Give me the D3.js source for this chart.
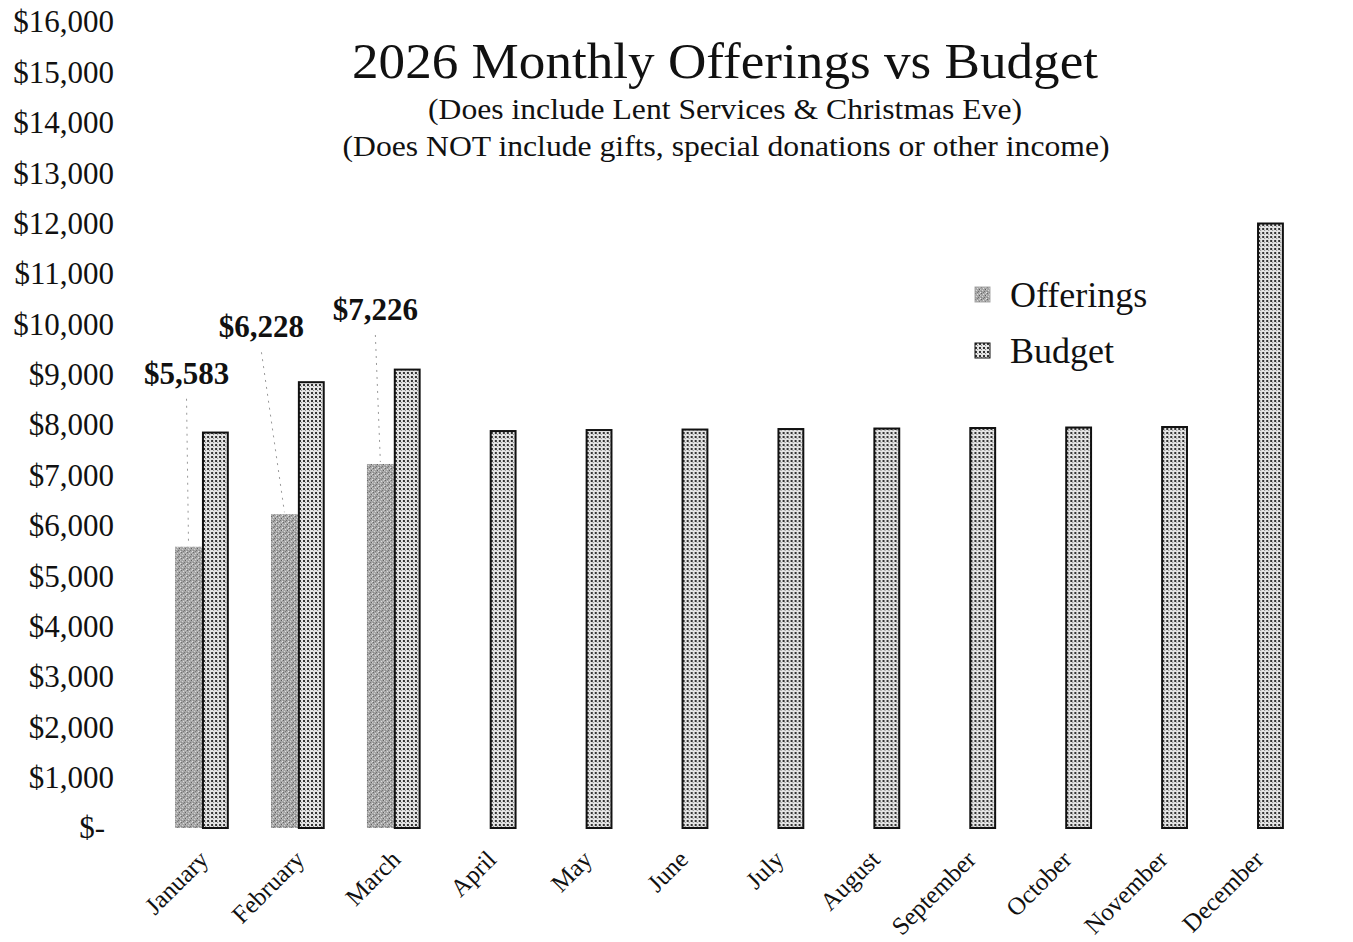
<!DOCTYPE html>
<html>
<head>
<meta charset="utf-8">
<script src="https://cdn.jsdelivr.net/npm/d3@7"></script>
<style>
	body { margin: 0; background: #fff; }
	text { font-family: "Liberation Serif", "Times New Roman", serif; fill: #111; }
</style>
</head>
<body>
<div id="visHolder"></div>
<script>
const months = ["January", "February", "March", "April", "May", "June", "July",
	"August", "September", "October", "November", "December"];
const offerings = [5583, 6228, 7226, null, null, null, null, null, null, null, null, null];
const budget = [7850, 8850, 9100, 7880, 7900, 7910, 7920, 7930, 7940, 7950, 7960, 12000];
const seriesNames = ["Offerings", "Budget"];
const yTicks = d3.range(0, 16001, 1000);

const width = 1353;
const height = 942;

//layout
const plot = { left: 154, right: 1305, top: 22, bottom: 828 };
// hand-placed data labels (offset of label centre from bar top)
const labelNudge = [[-2, -174], [-23, -188], [-5, -155]];

const svg = d3
	.select("#visHolder")
	.append("svg")
	.attr("width", width)
	.attr("height", height)
	.attr("viewBox", [0, 0, width, height]);

createPatterns();

const x = d3
	.scaleBand()
	.domain(months)
	.range([plot.left, plot.right])
	.paddingInner(0.44)
	.paddingOuter(0.22);

const xSeries = d3.scaleBand().domain(seriesNames).range([0, x.bandwidth()]);

const y = d3.scaleLinear().domain([0, 16000]).range([plot.bottom, plot.top]);

createYAxis();
createXAxis();
createBars();
createLabels();
createTitle();
createLegend();

function createPatterns() {
	const defs = svg.append("defs");
	const off = defs
		.append("pattern")
		.attr("id", "patOfferings")
		.attr("patternUnits", "userSpaceOnUse")
		.attr("width", 6)
		.attr("height", 6);
	off.append("rect").attr("width", 6).attr("height", 6).attr("fill", "#a6a6a6");
	[[0, 0, "#666"], [2, 1, "#e0e0e0"], [4, 2, "#5c5c5c"], [1, 3, "#d6d6d6"],
		[3, 4, "#707070"], [5, 5, "#e8e8e8"], [0, 4, "#888"], [4, 0, "#cacaca"],
		[2, 5, "#777"], [5, 2, "#ccc"]]
		.forEach(([px, py, c]) => {
			off.append("rect").attr("x", px).attr("y", py)
				.attr("width", 1).attr("height", 1).attr("fill", c);
		});

	const bud = defs
		.append("pattern")
		.attr("id", "patBudget")
		.attr("patternUnits", "userSpaceOnUse")
		.attr("width", 4)
		.attr("height", 4);
	bud.append("rect").attr("width", 4).attr("height", 4).attr("fill", "#e4e4e4");
	bud.append("rect").attr("x", 0).attr("y", 0).attr("width", 2).attr("height", 2).attr("fill", "#333");
	bud.append("rect").attr("x", 2).attr("y", 2).attr("width", 1).attr("height", 1).attr("fill", "#888");
}

function createYAxis() {
	const fmt = d3.format(",");
	const axis = d3
		.axisLeft(y)
		.tickValues(yTicks)
		.tickSize(0)
		.tickPadding(0)
		.tickFormat((d) => (d === 0 ? "$-" : "$" + fmt(d)));
	const g = svg
		.append("g")
		.attr("transform", `translate(114,0)`)
		.call(axis);
	g.select(".domain").remove();
	g.selectAll("text")
		.style("font-family", "'Liberation Serif', serif")
		.style("font-size", "31px")
		.attr("fill", "#111")
		.attr("dx", (d) => (d === 0 ? -9 : 0));
}

function createXAxis() {
	const g = svg.append("g");
	g.selectAll("text")
		.data(months)
		.join("text")
		.attr(
			"transform",
			(d) => `translate(${x(d) + x.bandwidth() / 2 + 8},${plot.bottom + 33}) rotate(-45)`
		)
		.attr("text-anchor", "end")
		.style("font-family", "'Liberation Serif', serif")
		.style("font-size", "25px")
		.text((d) => d);
}

function createBars() {
	const rows = months.map((m, i) => ({ month: m, Offerings: offerings[i], Budget: budget[i] }));
	const groups = svg
		.append("g")
		.selectAll("g")
		.data(rows)
		.join("g")
		.attr("transform", (d) => `translate(${x(d.month)},0)`);

	groups
		.filter((d) => d.Offerings != null)
		.append("rect")
		.attr("x", xSeries("Offerings"))
		.attr("width", xSeries.bandwidth())
		.attr("y", (d) => y(d.Offerings))
		.attr("height", (d) => y(0) - y(d.Offerings))
		.attr("fill", "url(#patOfferings)");

	groups
		.append("rect")
		.attr("x", xSeries("Budget") + 1)
		.attr("width", xSeries.bandwidth() - 2)
		.attr("y", (d) => y(d.Budget))
		.attr("height", (d) => y(0) - y(d.Budget))
		.attr("fill", "url(#patBudget)")
		.attr("stroke", "#111")
		.attr("stroke-width", 2);
}

function createLabels() {
	const fmt = d3.format(",");
	const data = offerings
		.map((v, i) => ({ month: months[i], value: v, nudge: labelNudge[i] }))
		.filter((d) => d.value != null);
	const g = svg.append("g");
	data.forEach((d) => {
		const bx = x(d.month) + xSeries("Offerings") + xSeries.bandwidth() / 2;
		const by = y(d.value);
		const lx = bx + d.nudge[0];
		const ly = by + d.nudge[1];
		g.append("line")
			.attr("x1", lx)
			.attr("y1", ly + 26)
			.attr("x2", bx)
			.attr("y2", by - 2)
			.attr("stroke", "#999")
			.attr("stroke-width", 1)
			.attr("stroke-dasharray", "2,5");
		g.append("text")
			.attr("x", lx)
			.attr("y", ly + 11)
			.attr("text-anchor", "middle")
			.style("font-size", "31px")
			.style("font-weight", "bold")
			.text("$" + fmt(d.value));
	});
}

function createTitle() {
	svg.append("text")
		.attr("x", 725)
		.attr("y", 78)
		.attr("text-anchor", "middle")
		.attr("textLength", 746)
		.attr("lengthAdjust", "spacingAndGlyphs")
		.style("font-size", "50px")
		.text("2026 Monthly Offerings vs Budget");
	svg.append("text")
		.attr("x", 725)
		.attr("y", 119)
		.attr("text-anchor", "middle")
		.attr("textLength", 594)
		.attr("lengthAdjust", "spacingAndGlyphs")
		.style("font-size", "29px")
		.text("(Does include Lent Services & Christmas Eve)");
	svg.append("text")
		.attr("x", 726)
		.attr("y", 156)
		.attr("text-anchor", "middle")
		.attr("textLength", 767)
		.attr("lengthAdjust", "spacingAndGlyphs")
		.style("font-size", "29px")
		.text("(Does NOT include gifts, special donations or other income)");
}

function createLegend() {
	const legend = svg
		.append("g")
		.attr("transform", "translate(975,287)");
	const items = legend
		.selectAll("g")
		.data(seriesNames)
		.join("g")
		.attr("transform", (_d, i) => `translate(0,${i * 56})`);
	items
		.append("rect")
		.attr("width", 15)
		.attr("height", 15)
		.attr("fill", (d) => (d === "Offerings" ? "url(#patOfferings)" : "url(#patBudget)"))
		.attr("stroke", (d) => (d === "Offerings" ? "#aaa" : "#111"))
		.attr("stroke-width", 1);
	items
		.append("text")
		.attr("x", 35)
		.attr("y", 20)
		.style("font-size", "36px")
		.text((d) => d);
}
</script>
</body>
</html>
